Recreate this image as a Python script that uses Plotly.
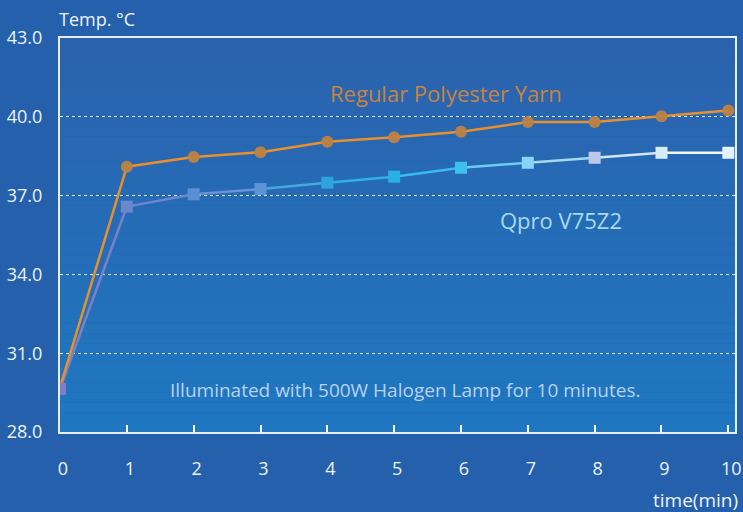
import plotly.graph_objects as go

minutes = [0, 1, 2, 3, 4, 5, 6, 7, 8, 9, 10]
regular_yarn = [29.7, 38.1, 38.47, 38.65, 39.05, 39.22, 39.43, 39.8, 39.8, 40.02, 40.24]
qpro = [29.64, 36.58, 37.05, 37.25, 37.49, 37.72, 38.06, 38.25, 38.44, 38.63, 38.63]
y_ticks = [28, 31, 34, 37, 40, 43]
y_tick_labels = ["28.0", "31.0", "34.0", "37.0", "40.0", "43.0"]
x_ticks = [0, 1, 2, 3, 4, 5, 6, 7, 8, 9, 10]

qpro_colors = ["#7f7fc2", "#6a88cc", "#5b8fd2", "#5a93d6", "#2ea3de", "#2bb0e4",
               "#3cc0f0", "#86d4f6", "#bcc8e8", "#d8ecf8", "#e4f2fb"]
qpro_line_colors = ["#7e80c6", "#7086cc", "#6a92d4", "#4aa6de", "#30b0e4",
                    "#38bcee", "#6cccf4", "#a6d8f4", "#d0e8f8", "#f2f8fd"]

fig = go.Figure()

# gradient background of plot area
top = (0x2b, 0x62, 0xad)
bot = (0x1f, 0x77, 0xc1)
n = 40
for i in range(n):
    t = i / (n - 1)
    c = tuple(int(round(top[k] + (bot[k] - top[k]) * t)) for k in range(3))
    fig.add_shape(type="rect", xref="x domain", yref="y domain",
                  x0=0, x1=1, y0=1 - (i + 1) / n, y1=1 - i / n,
                  fillcolor="rgb(%d,%d,%d)" % c, line_width=0, layer="below")

# Qpro line segments with gradient colors
for i in range(len(minutes) - 1):
    fig.add_trace(go.Scatter(x=minutes[i:i + 2], y=qpro[i:i + 2], mode="lines",
                             line=dict(color=qpro_line_colors[i], width=2.5),
                             showlegend=False, hoverinfo="skip"))

fig.add_trace(go.Scatter(x=minutes, y=regular_yarn, mode="lines+markers",
                         line=dict(color="#e8902c", width=2.5),
                         marker=dict(size=12, color="rgba(190,130,70,0.95)"),
                         showlegend=False, name="Regular Polyester Yarn"))

fig.add_trace(go.Scatter(x=minutes, y=qpro, mode="markers",
                         marker=dict(size=12, symbol="square", color=qpro_colors),
                         showlegend=False, name="Qpro V75Z2"))

font_family = "Open Sans, Lato, sans-serif"

fig.update_layout(
    width=743, height=512,
    margin=dict(l=60, r=8, t=38, b=80),
    paper_bgcolor="#2560ad",
    plot_bgcolor="#2560ad",
    font=dict(family=font_family, color="#eef3fa", size=16),
    xaxis=dict(range=[0, 10.1], tickvals=x_ticks, ticks="inside", ticklen=7,
               tickwidth=1.5, tickcolor="#ffffff", showgrid=False,
               showline=True, linecolor="#e8eef8", linewidth=2, mirror=True,
               zeroline=False, ticklabelstandoff=19, ticklabelshift=3,
               automargin=False,
               tickfont=dict(size=18, color="#eef3fa")),
    yaxis=dict(range=[28, 43], tickvals=y_ticks, ticktext=y_tick_labels,
               showgrid=True, gridcolor="rgba(255,255,255,0.85)", griddash="dot",
               gridwidth=1, showline=True, linecolor="#e8eef8", linewidth=2,
               mirror=True, zeroline=False, ticks="", ticklabelstandoff=12,
               automargin=False,
               tickfont=dict(size=18, color="#eef3fa")),
    annotations=[
        dict(text="Temp. °C", xref="paper", yref="paper", x=0, y=1, yshift=19,
             xshift=-3, xanchor="left", yanchor="middle", showarrow=False,
             font=dict(size=18, color="#eef3fa")),
        dict(text="time(min)", xref="paper", yref="paper", x=1, y=0, xshift=5,
             yshift=-68, xanchor="right", yanchor="middle", showarrow=False,
             font=dict(size=19, color="#eef3fa")),
        dict(text="Regular Polyester Yarn", x=5.78, y=40.9, showarrow=False,
             font=dict(size=22, color="#c8843e")),
        dict(text="Qpro V75Z2", x=7.5, y=36.07, showarrow=False,
             font=dict(size=22, color="#a8daf2")),
        dict(text="Illuminated with 500W Halogen Lamp for 10 minutes.", x=5.16,
             y=29.6, showarrow=False, font=dict(size=19, color="#b8d2ee")),
    ],
)

fig.write_html("out.html", config={"displayModeBar": False},
               post_script="document.body.style.margin='0';document.body.style.overflow='hidden';")
